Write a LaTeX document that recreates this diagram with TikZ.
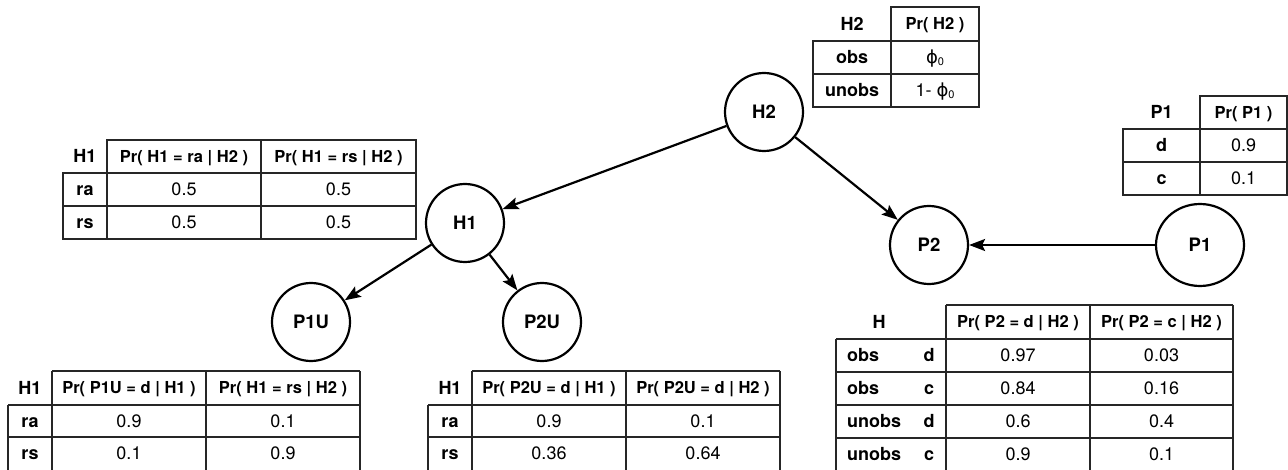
\documentclass[tikz,border=0pt]{standalone}
\usepackage{fontspec}
\setmainfont{TeX Gyre Heros}
\newfontfamily\phifont{DejaVu Sans}
\usetikzlibrary{arrows.meta,shapes.geometric}
\newcommand{\phiz}{{\phifont ϕ}\raisebox{-1.5pt}{\fontsize{11}{11}\selectfont 0}}
\begin{document}
\begin{tikzpicture}[x=1pt,y=-1pt,
  tl/.style={line width=1.1pt, draw=black!85},
  circ/.style={circle, draw, line width=2.2pt, minimum size=78pt, inner sep=0pt,
    font=\fontsize{18.5}{18.5}\selectfont\bfseries},
  ellip/.style={ellipse, draw, line width=2.2pt, minimum width=88pt, minimum height=82pt, inner sep=0pt,
    font=\fontsize{18.5}{18.5}\selectfont\bfseries},
  arr/.style={line width=2.2pt, -{Stealth[length=16pt,width=12pt,inset=3pt]}},
  hd/.style={font=\fontsize{16.5}{16.5}\selectfont\bfseries, inner sep=0pt, text height=11.8pt, text depth=0pt},
  rl/.style={font=\fontsize{18}{18}\selectfont\bfseries, inner sep=0pt, text height=12.9pt, text depth=0pt},
  nm/.style={font=\fontsize{18}{18}\selectfont, inner sep=0pt, text height=12.9pt, text depth=0pt}]
\useasboundingbox (0,0) rectangle (1288,470);
\fill[white] (0,0) rectangle (1288,470);

% ---- H2 table
\draw[tl] (891,7) rectangle (979,107);
\draw[tl] (813,41) rectangle (979,107);
\draw[tl] (813,74) -- (979,74);
\node[rl] (h2h) at (852,24) {H2};
\node[hd] (h2p) at (935,24) {Pr( H2 )};
\node[rl] (h2o) at (852,57.5) {obs};
\node[rl] (h2u) at (852,90.5) {unobs};
\node[nm] (h2a) at (935,57.5) {\phiz};
\node[nm] (h2b) at (935,90.5) {1- \phiz};

% ---- P1 table
\draw[tl] (1200,96) rectangle (1287,195);
\draw[tl] (1123,129) rectangle (1287,195);
\draw[tl] (1123,162) -- (1287,162);
\node[rl] (p1h) at (1161.5,112.5) {P1};
\node[hd] (p1p) at (1243.5,112.5) {Pr( P1 )};
\node[rl] (p1d) at (1161.5,145.5) {d};
\node[nm] (p1a) at (1243.5,145.5) {0.9};
\node[rl] (p1c) at (1161.5,178.5) {c};
\node[nm] (p1b) at (1243.5,178.5) {0.1};

% ---- H1 table
\draw[tl] (107,140) rectangle (416,239);
\draw[tl] (63,173) rectangle (416,239);
\draw[tl] (63,206) -- (416,206);
\draw[tl] (261,140) -- (261,239);
\node[rl] (t1h) at (85,156.5) {H1};
\node[hd] (t1p) at (184,156.5) {Pr( H1 = ra | H2 )};
\node[hd] (t1q) at (338.5,156.5) {Pr( H1 = rs | H2 )};
\node[rl] (t1r) at (85,189.5) {ra};
\node[nm] (t1a) at (184,189.5) {0.5};
\node[nm] (t1b) at (338.5,189.5) {0.5};
\node[rl] (t1s) at (85,222.5) {rs};
\node[nm] (t1c) at (184,222.5) {0.5};
\node[nm] (t1d) at (338.5,222.5) {0.5};

% ---- P1U table
\draw[tl] (52,371) -- (360,371);
\foreach \xx in {52,206,360} \draw[tl] (\xx,371) -- (\xx,472);
\draw[tl] (8,405) -- (360,405);
\draw[tl] (8,437) -- (360,437);
\draw[tl] (8,405) -- (8,472);
\node[rl] (t2h) at (30,388) {H1};
\node[hd] (t2p) at (129,388) {Pr( P1U = d | H1 )};
\node[hd] (t2q) at (283,388) {Pr( H1 = rs | H2 )};
\node[rl] (t2r) at (30,421) {ra};
\node[nm] (t2a) at (129,421) {0.9};
\node[nm] (t2b) at (283,421) {0.1};
\node[rl] (t2s) at (30,453.5) {rs};
\node[nm] (t2c) at (129,453.5) {0.1};
\node[nm] (t2d) at (283,453.5) {0.9};

% ---- P2U table
\draw[tl] (472,371) -- (780,371);
\foreach \xx in {472,626,780} \draw[tl] (\xx,371) -- (\xx,472);
\draw[tl] (428,405) -- (780,405);
\draw[tl] (428,437) -- (780,437);
\draw[tl] (428,405) -- (428,472);
\node[rl] (t3h) at (450,388) {H1};
\node[hd] (t3p) at (549,388) {Pr( P2U = d | H1 )};
\node[hd] (t3q) at (703,388) {Pr( P2U = d | H2 )};
\node[rl] (t3r) at (450,421) {ra};
\node[nm] (t3a) at (549,421) {0.9};
\node[nm] (t3b) at (703,421) {0.1};
\node[rl] (t3s) at (450,453.5) {rs};
\node[nm] (t3c) at (549,453.5) {0.36};
\node[nm] (t3d) at (703,453.5) {0.64};

% ---- P2 table
\draw[tl] (946,305) -- (1233,305);
\foreach \xx in {946,1090,1233} \draw[tl] (\xx,305) -- (\xx,472);
\foreach \yy in {339,372,405,438} \draw[tl] (836,\yy) -- (1233,\yy);
\draw[tl] (836,339) -- (836,472);
\node[rl] (t4h) at (879,322) {H};
\node[hd] (t4p) at (1018,322) {Pr( P2 = d | H2 )};
\node[hd] (t4q) at (1161.5,322) {Pr( P2 = c | H2 )};
\node[rl,anchor=west] (t4r1) at (847,355.5) {obs};
\node[rl] (t4s1) at (929,355.5) {d};
\node[nm] (t4a1) at (1018,355.5) {0.97};
\node[nm] (t4b1) at (1161.5,355.5) {0.03};
\node[rl,anchor=west] (t4r2) at (847,388.5) {obs};
\node[rl] (t4s2) at (929,388.5) {c};
\node[nm] (t4a2) at (1018,388.5) {0.84};
\node[nm] (t4b2) at (1161.5,388.5) {0.16};
\node[rl,anchor=west] (t4r3) at (847,421.5) {unobs};
\node[rl] (t4s3) at (929,421.5) {d};
\node[nm] (t4a3) at (1018,421.5) {0.6};
\node[nm] (t4b3) at (1161.5,421.5) {0.4};
\node[rl,anchor=west] (t4r4) at (847,454.5) {unobs};
\node[rl] (t4s4) at (929,454.5) {c};
\node[nm] (t4a4) at (1018,454.5) {0.9};
\node[nm] (t4b4) at (1161.5,454.5) {0.1};

% ---- graph
\node[circ] (H2) at (764,112) {H2};
\node[circ] (H1) at (465,223) {H1};
\node[circ] (P1U) at (311,322) {P1U};
\node[circ] (P2U) at (542,322) {P2U};
\node[circ] (P2) at (929,245) {P2};
\node[ellip] (P1) at (1200,245) {P1};
\draw[arr] (H2) -- (H1);
\draw[arr] (H2) -- (P2);
\draw[arr] (P1) -- (P2);
\draw[arr] (H1) -- (P1U);
\draw[arr] (H1) -- (P2U);
\end{tikzpicture}
\end{document}
